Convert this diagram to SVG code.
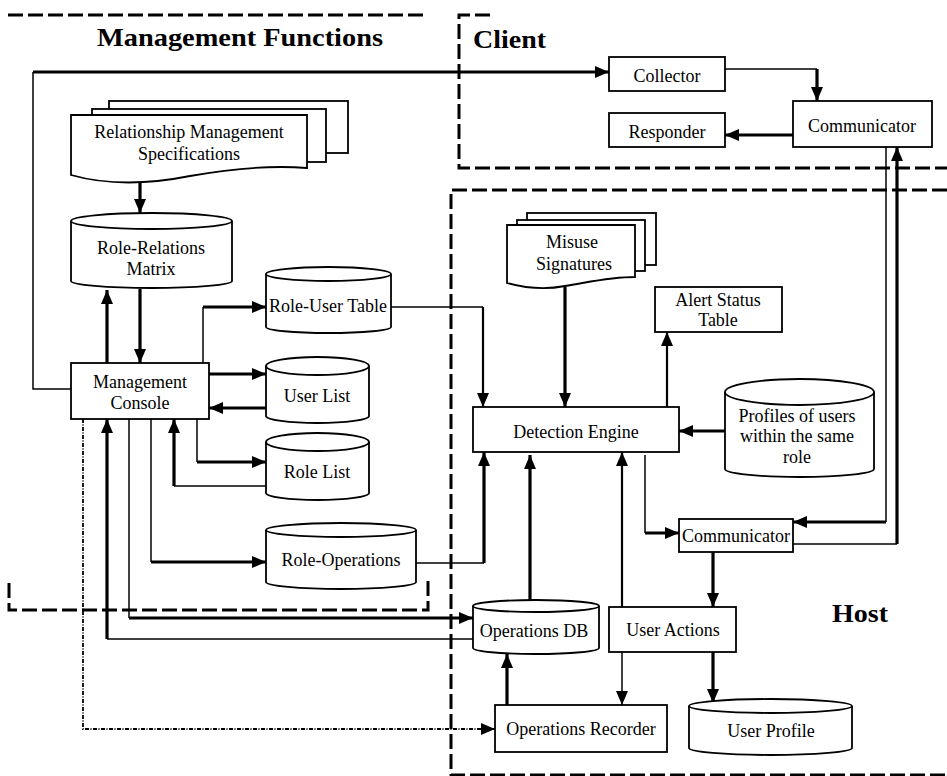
<svg xmlns="http://www.w3.org/2000/svg" width="947" height="776" viewBox="0 0 947 776">
<defs>
<style>
.shape{fill:#fff;stroke:#000;stroke-width:1.8}
.t{font-family:"Liberation Serif","Times New Roman",serif;font-size:18px;fill:#000;text-anchor:middle}
.title{font-family:"Liberation Serif","Times New Roman",serif;font-size:25px;font-weight:bold;fill:#000}
.thin{fill:none;stroke:#000;stroke-width:1.5}
.mid{fill:none;stroke:#000;stroke-width:2.2}
.thick{fill:none;stroke:#000;stroke-width:3.2}
.bound{fill:none;stroke:#000;stroke-width:3;stroke-dasharray:15 5}
.dd{fill:none;stroke:#000;stroke-width:1.8;stroke-dasharray:4 1.5 1 1.5}
</style>
<marker id="a" viewBox="0 0 14 12" refX="14" refY="6" markerWidth="14" markerHeight="12" markerUnits="userSpaceOnUse" orient="auto">
<path d="M0,0 L14,6 L0,12 Z" fill="#000"/>
</marker>
</defs>
<rect width="947" height="776" fill="#fff"/>

<g id="boundaries">
<path class="bound" d="M8,15 H428"/>
<path class="bound" d="M9,583 V610 H428 V579"/>
<path class="bound" d="M490,15 H459 V168 H947"/>
<path class="bound" d="M947,190 H451 V775 H947"/>
<text class="title" x="97" y="46" textLength="286" lengthAdjust="spacingAndGlyphs">Management Functions</text>
<text class="title" x="473" y="48" textLength="73" lengthAdjust="spacingAndGlyphs">Client</text>
<text class="title" x="832" y="622" textLength="56" lengthAdjust="spacingAndGlyphs">Host</text>
</g>

<g id="connectors">
<path class="thin" d="M71,389 H33 V72"/>
<path class="thick" d="M33,72 H609" marker-end="url(#a)"/>
<path class="thin" d="M725,69 H817"/>
<path class="thick" d="M817,69 V101" marker-end="url(#a)"/>
<path class="thick" d="M793,135 H725" marker-end="url(#a)"/>
<path class="thin" d="M886,147 V522"/>
<path class="thick" d="M886,522 H793" marker-end="url(#a)"/>
<path class="thin" d="M793,544 H897"/>
<path class="thick" d="M897,544 V147" marker-end="url(#a)"/>
<path class="thick" d="M140,178 V213" marker-end="url(#a)"/>
<path class="thick" d="M107,363 V290" marker-end="url(#a)"/>
<path class="thick" d="M140,289 V363" marker-end="url(#a)"/>
<path class="thin" d="M203,363 V307"/>
<path class="thick" d="M203,307 H266" marker-end="url(#a)"/>
<path class="thin" d="M391,307 H483"/>
<path class="mid" d="M483,307 V407" marker-end="url(#a)"/>
<path class="thick" d="M209,374 H266" marker-end="url(#a)"/>
<path class="thick" d="M266,408 H209" marker-end="url(#a)"/>
<path class="thin" d="M197,419 V462"/>
<path class="thick" d="M197,462 H266" marker-end="url(#a)"/>
<path class="thin" d="M266,486 H174"/>
<path class="thick" d="M174,486 V419" marker-end="url(#a)"/>
<path class="thin" d="M151,419 V562"/>
<path class="thick" d="M151,562 H266" marker-end="url(#a)"/>
<path class="thin" d="M416,563 H484"/>
<path class="thick" d="M484,563 V452" marker-end="url(#a)"/>
<path class="thin" d="M129,419 V618"/>
<path class="thick" d="M129,618 H473" marker-end="url(#a)"/>
<path class="thin" d="M473,639 H107"/>
<path class="thick" d="M107,639 V419" marker-end="url(#a)"/>
<path class="dd" d="M83,419 V729 H495" marker-end="url(#a)"/>
<path class="thick" d="M565,287 V407" marker-end="url(#a)"/>
<path class="mid" d="M667,407 V332" marker-end="url(#a)"/>
<path class="thick" d="M725,431 H679" marker-end="url(#a)"/>
<path class="thick" d="M530,600 V455" marker-end="url(#a)"/>
<path class="mid" d="M622,607 V452" marker-end="url(#a)"/>
<path class="thin" d="M645,455 V533"/>
<path class="thick" d="M645,533 H679" marker-end="url(#a)"/>
<path class="thick" d="M713,552 V607" marker-end="url(#a)"/>
<path class="thin" d="M622,652 V705" marker-end="url(#a)"/>
<path class="thick" d="M713,652 V703" marker-end="url(#a)"/>
<path class="thick" d="M507,705 V654" marker-end="url(#a)"/>
</g>

<g id="relationship-management-specifications">
<rect class="shape" x="109" y="101" width="239" height="52"/>
<rect class="shape" x="92" y="109" width="234" height="53"/>
<path class="shape" d="M71,115 H307 V168 C270,165 235,168 190,176 C150,184 110,186 71,175 Z"/>
<text class="t" x="189" y="138">Relationship Management</text>
<text class="t" x="189" y="160">Specifications</text>
</g>

<g id="role-relations-matrix">
<path class="shape" d="M71,221 A80.5,8 0 0 1 232,221 V281 A80.5,7 0 0 1 71,281 Z"/>
<path class="shape" d="M71,221 A80.5,8 0 0 0 232,221"/>
<text class="t" x="151" y="254">Role-Relations</text>
<text class="t" x="151" y="275">Matrix</text>
</g>

<g id="management-console">
<rect class="shape" x="71" y="363" width="138" height="56"/>
<text class="t" x="140" y="388">Management</text>
<text class="t" x="140" y="409">Console</text>
</g>

<g id="role-user-table">
<path class="shape" d="M266,274 A62.5,7 0 0 1 391,274 V327 A62.5,6 0 0 1 266,327 Z"/>
<path class="shape" d="M266,274 A62.5,7 0 0 0 391,274"/>
<text class="t" x="328" y="312">Role-User Table</text>
</g>

<g id="user-list">
<path class="shape" d="M266,366 A51.5,9 0 0 1 369,366 V416 A51.5,7 0 0 1 266,416 Z"/>
<path class="shape" d="M266,366 A51.5,9 0 0 0 369,366"/>
<text class="t" x="317" y="402">User List</text>
</g>

<g id="role-list">
<path class="shape" d="M266,442 A51.5,9 0 0 1 369,442 V493 A51.5,7 0 0 1 266,493 Z"/>
<path class="shape" d="M266,442 A51.5,9 0 0 0 369,442"/>
<text class="t" x="317" y="478">Role List</text>
</g>

<g id="role-operations">
<path class="shape" d="M266,530 A75,7 0 0 1 416,530 V582 A75,7 0 0 1 266,582 Z"/>
<path class="shape" d="M266,530 A75,7 0 0 0 416,530"/>
<text class="t" x="341" y="566">Role-Operations</text>
</g>

<g id="collector">
<rect class="shape" x="609" y="57" width="116" height="34"/>
<text class="t" x="667" y="82">Collector</text>
</g>

<g id="responder">
<rect class="shape" x="609" y="113" width="116" height="34"/>
<text class="t" x="667" y="138">Responder</text>
</g>

<g id="client-communicator">
<rect class="shape" x="793" y="101" width="139" height="46"/>
<text class="t" x="862" y="132">Communicator</text>
</g>

<g id="misuse-signatures">
<rect class="shape" x="527" y="213" width="129" height="52"/>
<rect class="shape" x="517" y="220" width="128" height="51"/>
<path class="shape" d="M507,225 H635 V277 C610,277 590,282 565,286 C545,290 525,288 507,283 Z"/>
<text class="t" x="572" y="248">Misuse</text>
<text class="t" x="574" y="270">Signatures</text>
</g>

<g id="alert-status-table">
<rect class="shape" x="655" y="287" width="127" height="45"/>
<text class="t" x="718" y="306">Alert Status</text>
<text class="t" x="718" y="326">Table</text>
</g>

<g id="detection-engine">
<rect class="shape" x="473" y="407" width="206" height="45"/>
<text class="t" x="576" y="438">Detection Engine</text>
</g>

<g id="profiles">
<path class="shape" d="M725,392 A74.5,13 0 0 1 874,392 V469 A74.5,8 0 0 1 725,469 Z"/>
<path class="shape" d="M725,392 A74.5,13 0 0 0 874,392"/>
<text class="t" x="797" y="422">Profiles of users</text>
<text class="t" x="797" y="442">within the same</text>
<text class="t" x="797" y="463">role</text>
</g>

<g id="host-communicator">
<rect class="shape" x="679" y="519" width="114" height="33"/>
<text class="t" x="736" y="542">Communicator</text>
</g>

<g id="user-actions">
<rect class="shape" x="609" y="607" width="127" height="45"/>
<text class="t" x="673" y="636">User Actions</text>
</g>

<g id="operations-db">
<path class="shape" d="M473,606 A63,6 0 0 1 599,606 V648 A63,6 0 0 1 473,648 Z"/>
<path class="shape" d="M473,606 A63,6 0 0 0 599,606"/>
<text class="t" x="534" y="637">Operations DB</text>
</g>

<g id="operations-recorder">
<rect class="shape" x="495" y="705" width="172" height="47"/>
<text class="t" x="581" y="735">Operations Recorder</text>
</g>

<g id="user-profile">
<path class="shape" d="M689,706 A81.5,7 0 0 1 852,706 V748 A81.5,7 0 0 1 689,748 Z"/>
<path class="shape" d="M689,706 A81.5,7 0 0 0 852,706"/>
<text class="t" x="771" y="737">User Profile</text>
</g>
</svg>
